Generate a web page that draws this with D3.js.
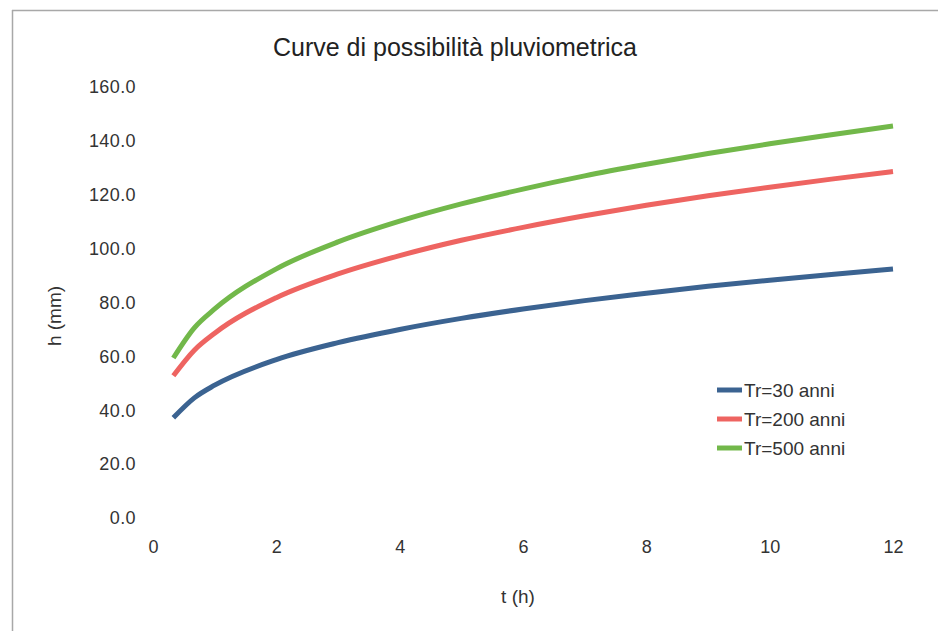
<!DOCTYPE html>
<html><head><meta charset="utf-8">
<script src="https://cdn.jsdelivr.net/npm/d3@7"></script>
<style>body{margin:0;background:#fff}svg{display:block}text{font-family:"Liberation Sans",Arial,sans-serif}</style>
</head><body><svg id="c" width="938" height="631"></svg>
<script>
const durations = [0.33, 0.67, 1, 2, 3, 4, 5, 6, 7, 8, 9, 10, 11, 12];
const tr30  = [37.2, 44.6, 49.3, 58.8, 65.1, 70.0, 74.1, 77.6, 80.7, 83.4, 86.0, 88.3, 90.4, 92.4];
const tr200 = [52.8, 62.3, 68.6, 81.8, 90.6, 97.4, 103.1, 107.9, 112.2, 116.1, 119.6, 122.8, 125.8, 128.6];
const tr500 = [59.4, 70.6, 77.6, 92.5, 102.5, 110.2, 116.6, 122.1, 127.0, 131.3, 135.3, 138.9, 142.3, 145.5];
const seriesNames = ["Tr=30 anni", "Tr=200 anni", "Tr=500 anni"];
const seriesColors = ["#3b6391", "#ee6461", "#72b84a"];
const xTicks = [0, 2, 4, 6, 8, 10, 12];
const yTicks = [0, 20, 40, 60, 80, 100, 120, 140, 160];

const svg = d3.select("#c");
svg.append("line").attr("x1",12).attr("x2",938).attr("y1",10.5).attr("y2",10.5).attr("stroke","#a8a8a8").attr("stroke-width",1.5);
svg.append("line").attr("x1",12.5).attr("x2",12.5).attr("y1",10).attr("y2",631).attr("stroke","#a8a8a8").attr("stroke-width",1.5);

const x = d3.scaleLinear().domain([0,12]).range([153,893]);
const y = d3.scaleLinear().domain([0,160]).range([518,87]);

svg.append("text").attr("x",455).attr("y",56).attr("text-anchor","middle")
  .attr("font-size",25).attr("fill","#222").text("Curve di possibilità pluviometrica");

const tickFont = "Liberation Sans, Arial, sans-serif";
const yAxis = svg.append("g").attr("transform","translate(136,0)")
  .call(d3.axisLeft(y).tickValues(yTicks).tickFormat(d3.format(".1f")).tickSize(0).tickPadding(0));
yAxis.select(".domain").remove();
yAxis.selectAll("text").attr("font-size",18).attr("fill","#333").attr("font-family",tickFont).attr("letter-spacing",0.4);

const xAxis = svg.append("g").attr("transform","translate(0,540)")
  .call(d3.axisBottom(x).tickValues(xTicks).tickFormat(d3.format("d")).tickSize(0).tickPadding(0));
xAxis.select(".domain").remove();
xAxis.selectAll("text").attr("font-size",18).attr("fill","#333").attr("font-family",tickFont);

svg.append("text").attr("x",518).attr("y",603).attr("text-anchor","middle")
  .attr("font-size",19).attr("fill","#333").text("t (h)");
svg.append("text").attr("transform","translate(61,316) rotate(-90)").attr("text-anchor","middle")
  .attr("font-size",19).attr("fill","#333").text("h (mm)");

const all = [tr30, tr200, tr500];
const line = d3.line().x((d,i)=>x(durations[i])).y(d=>y(d)).curve(d3.curveMonotoneX);
all.forEach((s,k)=>{
  svg.append("path").datum(s).attr("d",line).attr("fill","none")
    .attr("stroke",seriesColors[k]).attr("stroke-width",5).attr("stroke-linejoin","round");
});

const leg = svg.append("g");
seriesNames.forEach((n,k)=>{
  const yy = 390 + k*29;
  leg.append("line").attr("x1",717).attr("x2",742).attr("y1",yy).attr("y2",yy)
    .attr("stroke",seriesColors[k]).attr("stroke-width",5);
  leg.append("text").attr("x",744).attr("y",yy+7).attr("font-size",19).attr("fill","#333").text(n);
});
</script></body></html>
